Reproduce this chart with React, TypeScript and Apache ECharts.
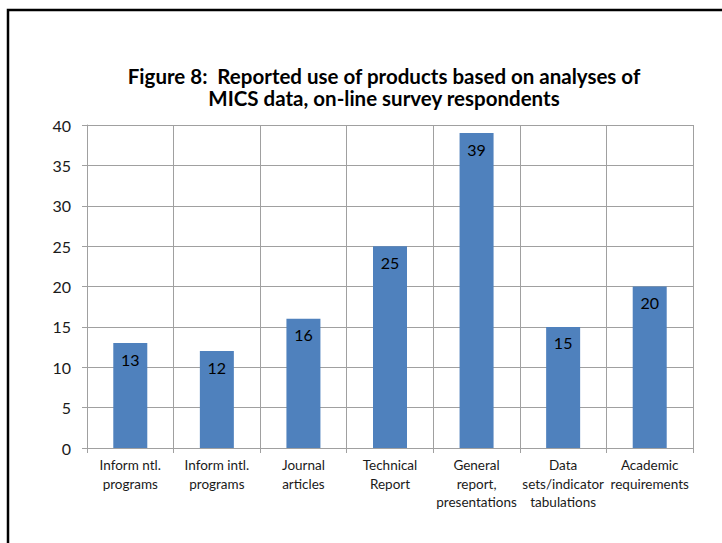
import React, { useEffect, useRef } from "react";
import * as echarts from "echarts";

const categories = [
  "Inform ntl.\nprograms",
  "Inform intl.\nprograms",
  "Journal\narticles",
  "Technical\nReport",
  "General\nreport,\npresentations",
  "Data\nsets/indicator\ntabulations",
  "Academic\nrequirements",
];
const values = [13, 12, 16, 25, 39, 15, 20];
const titleLines = [
  "Figure 8:  Reported use of products based on analyses of",
  "MICS data, on-line survey respondents",
];

const FONT = "Lato, 'Open Sans', sans-serif";

export default function App() {
  const ref = useRef<HTMLDivElement>(null);
  useEffect(() => {
    if (!ref.current) return;
    const chart = echarts.init(ref.current, undefined, { renderer: "svg" });
    chart.setOption({
      animation: false,
      backgroundColor: "#ffffff",
      textStyle: { fontFamily: FONT },
      title: {
        text: titleLines.join("\n"),
        left: 379,
        top: 60,
        textAlign: "center",
        textStyle: {
          fontFamily: FONT,
          fontSize: 20.5,
          fontWeight: "bold",
          lineHeight: 22,
          color: "#000",
        },
      },
      graphic: [
        {
          type: "rect",
          shape: { x: 8, y: 10, width: 800, height: 700 },
          style: { fill: "none", stroke: "#000", lineWidth: 2.5 },
          silent: true,
        },
      ],
      grid: { left: 87, right: 29, top: 125, bottom: 95 },
      xAxis: {
        type: "category",
        data: categories,
        boundaryGap: true,
        axisLine: { show: true, lineStyle: { color: "#a0a0a0", width: 1 } },
        axisTick: { show: true, length: 5, alignWithLabel: false, lineStyle: { color: "#a0a0a0" } },
        splitLine: { show: true, lineStyle: { color: "#a0a0a0", width: 1 } },
        axisLabel: {
          interval: 0,
          margin: 8,
          fontFamily: FONT,
          fontSize: 13.5,
          lineHeight: 18.5,
          color: "#1a1a1a",
        },
      },
      yAxis: {
        type: "value",
        min: 0,
        max: 40,
        interval: 5,
        axisLine: { show: true, lineStyle: { color: "#a0a0a0", width: 1 } },
        axisTick: { show: true, length: 5, lineStyle: { color: "#a0a0a0" } },
        splitLine: { show: true, lineStyle: { color: "#a0a0a0", width: 1 } },
        axisLabel: {
          margin: 16,
          fontFamily: FONT,
          fontSize: 16,
          color: "#1a1a1a",
        },
      },
      series: [
        {
          type: "bar",
          data: values,
          barWidth: 34,
          itemStyle: { color: "#4F81BD" },
          label: {
            show: true,
            position: "insideTop",
            distance: 8,
            fontFamily: FONT,
            fontSize: 16,
            color: "#000",
          },
        },
      ],
    });
    return () => chart.dispose();
  }, []);
  return (
    <div
      ref={ref}
      style={{ position: "fixed", left: 0, top: 0, width: 722, height: 543 }}
    />
  );
}
